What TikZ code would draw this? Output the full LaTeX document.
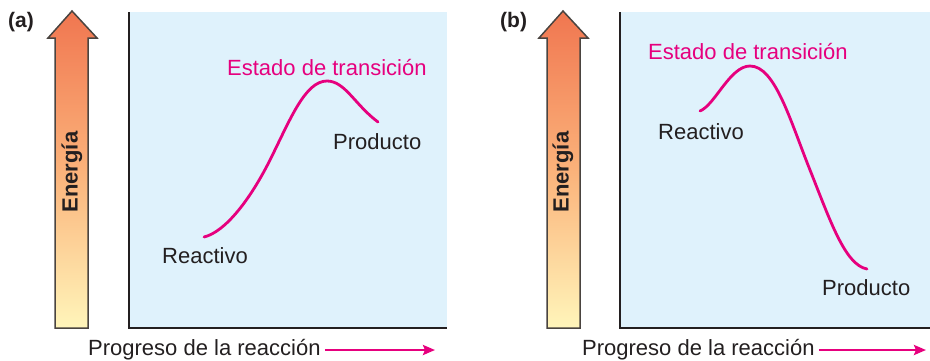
\documentclass[tikz,border=0pt]{standalone}
\usepackage{fontspec}
\setmainfont{Liberation Sans}
\usetikzlibrary{arrows.meta}
\definecolor{rosa}{HTML}{E6007E}
\definecolor{celeste}{HTML}{DFF2FC}
\definecolor{naranja}{HTML}{F07650}
\definecolor{durazno}{HTML}{FBB27A}
\definecolor{crema}{HTML}{FFF5BA}
\definecolor{borde}{HTML}{4A4440}
\definecolor{tinta}{HTML}{231F20}

\begin{document}
\begin{tikzpicture}[x=1pt, y=-1pt,
    every node/.style={inner sep=0pt, text=tinta, font=\fontsize{22}{26}\selectfont},
    panel/.style={fill=celeste},
    ejes/.style={draw=tinta, line width=2.4pt},
    energia/.style={top color=naranja, bottom color=crema, middle color=durazno},
    curva/.style={rosa, line width=2.8pt, line cap=round},
    flecha/.style={rosa, line width=2.6pt, -{Stealth[length=12pt, width=10pt, inset=2pt]}},
    titulo/.style={anchor=base west, font=\bfseries\fontsize{21}{24}\selectfont}]
  \useasboundingbox (0,0) rectangle (930,360);
  % (a)
  \node[titulo] (etiqa) at (8,27) {(a)};
  \fill[panel] (129,12) rectangle (447,328);
  \draw[ejes] (129,12) -- (129,328) -- (447,328);
  \shade[energia] (55,328) -- (55,38) -- (48,38) -- (72,11) -- (97,38) -- (88,38) -- (88,328) -- cycle;
  \draw[borde, line width=1.5pt] (55,328) -- (55,38) -- (48,38) -- (72,11) -- (97,38) -- (88,38) -- (88,328) -- cycle;
  \node[rotate=90, font=\bfseries\fontsize{22}{26}\selectfont] (enera) at (72,172) {Energía};
  \draw[curva] (204,237) .. controls (225,232) and (250,200) .. (270,160)
    .. controls (290,120) and (305,81) .. (327,81)
    .. controls (345,81) and (355,105) .. (378,122);
  \node[anchor=base west, text=rosa] (estadoa) at (227,75) {Estado de transición};
  \node[anchor=base west] (productoa) at (333,149) {Producto};
  \node[anchor=base west] (reactivoa) at (162,263) {Reactivo};
  \node[anchor=base west] (progresoa) at (88,355) {Progreso de la reacción};
  \coordinate (finala) at (435,350);
  \draw[flecha] ([xshift=4]progresoa.east |- finala) -- (finala);
  % (b)
  \node[titulo] (etiqb) at (500,27) {(b)};
  \fill[panel] (620,12) rectangle (930,328);
  \draw[ejes] (620,12) -- (620,328) -- (930,328);
  \shade[energia] (547,328) -- (547,38) -- (539,38) -- (563,11) -- (588,38) -- (580,38) -- (580,328) -- cycle;
  \draw[borde, line width=1.5pt] (547,328) -- (547,38) -- (539,38) -- (563,11) -- (588,38) -- (580,38) -- (580,328) -- cycle;
  \node[rotate=90, font=\bfseries\fontsize{22}{26}\selectfont] (enerb) at (563,172) {Energía};
  \draw[curva] (700,111) .. controls (715,105) and (730,66) .. (750,66)
    .. controls (775,66) and (790,120) .. (810,170)
    .. controls (830,220) and (845,265) .. (867,269);
  \node[anchor=base west, text=rosa] (estadob) at (648,59) {Estado de transición};
  \node[anchor=base west] (reactivob) at (658,139) {Reactivo};
  \node[anchor=base west] (productob) at (822,295) {Producto};
  \node[anchor=base west] (progresob) at (582,355) {Progreso de la reacción};
  \coordinate (finalb) at (926,350);
  \draw[flecha] ([xshift=4]progresob.east |- finalb) -- (finalb);
\end{tikzpicture}
\end{document}
